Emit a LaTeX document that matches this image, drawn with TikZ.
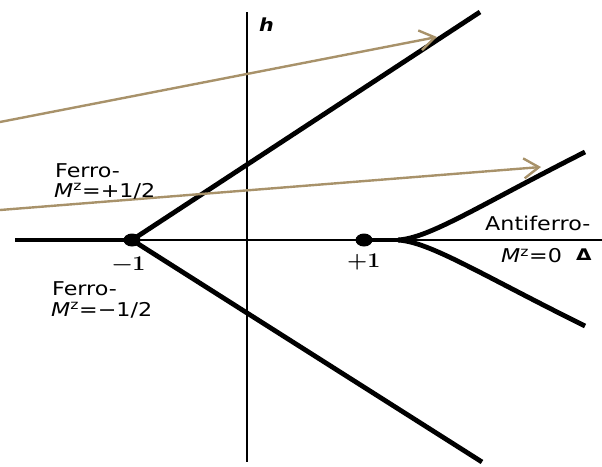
\documentclass[tikz,border=0pt]{standalone}
\usepackage{graphicx}
\usepackage{fontspec}
\setsansfont{DejaVu Sans}
\renewcommand{\familydefault}{\sfdefault}
\usetikzlibrary{arrows.meta, shapes.geometric}

\definecolor{arrowtan}{RGB}{168,146,106}
\newcommand{\wide}[1]{\scalebox{1.17}[1]{#1}}

\begin{document}
\begin{tikzpicture}[x=1pt, y=-1pt,
    phase/.style={line width=4.8pt},
    axis/.style={line width=2pt},
    dot/.style={ellipse, fill, inner sep=0pt, minimum width=17pt, minimum height=13pt},
    field/.style={arrowtan, line width=2.4pt, -{Straight Barb[length=15pt, width=20pt, line width=2.4pt]}},
    lbl/.style={font=\fontsize{19}{22}\selectfont, inner sep=0pt, anchor=base west},
    num/.style={lbl, font=\fontsize{21}{24}\selectfont\rmfamily\bfseries}]
    % 1. Frame (pixel units, y pointing down)
    \useasboundingbox (0,0) rectangle (602,466);

    % 2. Points of the diagram
    \coordinate (XL) at (15,240);
    \coordinate (XR) at (602,240);
    \coordinate (YT) at (247,12);
    \coordinate (YB) at (247,462);
    \node[dot] (Pm) at (132,240) {};
    \node[dot] (Pp) at (364,240) {};
    \coordinate (Fu) at (480,12);  % upper ferro boundary
    \coordinate (Fd) at (482,462); % lower ferro boundary
    \coordinate (Af) at (398,240); % where the antiferro branches split
    \coordinate (Au) at (585,152);
    \coordinate (Ad) at (585,326);

    % field sweeps
    \coordinate (S1) at (0,122);
    \coordinate (E1) at (437,37);
    \coordinate (S2) at (0,210);
    \coordinate (E2) at (541,167);

    % 3. Axes
    \draw[axis] (Pm.center) -- (XR);
    \draw[axis] (YT) -- (YB);

    % 4. Phase boundaries
    \draw[phase] (XL) -- (Pm.center);
    \draw[phase] (Pm.center) -- (Fu);
    \draw[phase] (Pm.center) -- (Fd);
    \draw[phase] (Pp.center) -- (Af);
    \draw[phase] (Af) .. controls (430,238) and (480,205) .. (Au);
    \draw[phase] (Af) .. controls (430,242) and (480,274) .. (Ad);

    % 5. Field arrows
    \draw[field] (S1) -- (E1);
    \draw[field] (S2) -- (E2);

    % 6. Labels (placed on their baselines)
    \node[lbl, font=\fontsize{18}{20}\selectfont] (h) at (259,31.5) {\scalebox{1.15}[1]{\bfseries\itshape h}};
    \node[lbl] (F1) at (55,177) {\wide{Ferro-}};
    \node[lbl] (M1) at (54,197) {\wide{\textit{M}\textsuperscript{z}=+1/2}};
    \node[num] (Lm) at (112,270) {\scalebox{1.1}[1]{−1}};
    \node[lbl] (F2) at (52,295) {\wide{Ferro-}};
    \node[lbl] (M2) at (51,316) {\wide{\textit{M}\textsuperscript{z}=−1/2}};
    \node[num] (Lp) at (347,267) {\scalebox{1.1}[1]{+1}};
    \node[lbl] (AF) at (485,230) {\wide{Antiferro-}};
    \node[lbl] (M0) at (501,262.5) {\wide{\textit{M}\textsuperscript{z}=0}};
    \node[lbl, font=\fontsize{16}{18}\selectfont\bfseries] (D) at (576,260) {\scalebox{1.25}[1]{Δ}};
\end{tikzpicture}
\end{document}
